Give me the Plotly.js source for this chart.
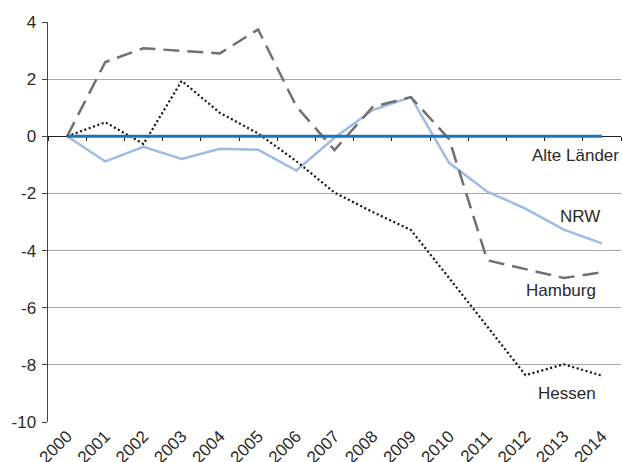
<!DOCTYPE html>
<html>
<head>
<meta charset="utf-8">
<script src="https://cdn.plot.ly/plotly-3.0.1.min.js"></script>
<style>html,body{margin:0;padding:0;background:#fff}#chart{width:622px;height:462px}</style>
</head>
<body>
<div id="chart"></div>
<script>
const years = [2000,2001,2002,2003,2004,2005,2006,2007,2008,2009,2010,2011,2012,2013,2014];
const alteLaender = [0,0,0,0,0,0,0,0,0,0,0,0,0,0,0];
const nrw = [0,-0.88,-0.37,-0.79,-0.44,-0.47,-1.2,-0.05,0.92,1.37,-0.93,-1.94,-2.53,-3.27,-3.75];
const hamburg = [0,2.6,3.08,2.99,2.9,3.74,1.05,-0.48,1.03,1.37,-0.1,-4.34,-4.65,-4.96,-4.76];
const hessen = [0,0.49,-0.27,1.94,0.82,0.1,-0.87,-1.97,-2.65,-3.28,-4.96,-6.67,-8.36,-7.98,-8.38];
const yTicks = [4,2,0,-2,-4,-6,-8,-10];
const seriesLabels = ["Alte Länder","NRW","Hamburg","Hessen"];

const boundaries = years.map(y => y - 0.5).concat([years[years.length-1] + 0.5]);
const xr = [years[0] - 0.5, years[years.length-1] + 0.5];
const font = {family: "Liberation Sans, Arial, Helvetica, sans-serif", size: 17, color: "#2a2a2a"};

const traces = [
  {x: years, y: nrw, mode: "lines", line: {color: "#9dbbe6", width: 2.5}, xaxis: "x", yaxis: "y"},
  {x: years, y: hamburg, mode: "lines", line: {color: "#707070", width: 2.5, dash: "16px,8px"}, xaxis: "x", yaxis: "y"},
  {x: years, y: hessen, mode: "lines", line: {color: "#111111", width: 2.2, dash: "2px,2.6px"}, xaxis: "x", yaxis: "y"},
  {x: years, y: alteLaender, mode: "lines", line: {color: "#1a75bc", width: 3}, xaxis: "x2", yaxis: "y"}
];

const layout = {
  width: 622, height: 462,
  margin: {l: 48, r: 1, t: 22, b: 40, pad: 0},
  paper_bgcolor: "#fff", plot_bgcolor: "#fff",
  showlegend: false,
  font: font,
  xaxis: {
    range: xr, tickmode: "array", tickvals: years, ticktext: years.map(String),
    tickangle: -45, ticks: "", showgrid: false, zeroline: false, showline: false,
    tickfont: font
  },
  xaxis2: {
    overlaying: "x", anchor: "free", position: 10/14, side: "bottom", layer: "below traces",
    range: xr, tickmode: "array", tickvals: boundaries, showticklabels: false,
    ticks: "outside", ticklen: 4, tickcolor: "#222", tickwidth: 1,
    showline: true, linecolor: "#222", linewidth: 1, showgrid: false, zeroline: false
  },
  yaxis: {
    range: [-10, 4], tickmode: "array", tickvals: yTicks, ticktext: yTicks.map(String),
    showgrid: true, gridcolor: "#a8a8a8", gridwidth: 1, zeroline: false,
    showline: true, linecolor: "#444", linewidth: 1.5, ticks: "outside", ticklen: 5, tickcolor: "#444",
    ticklabelstandoff: 2, tickfont: font
  },
  annotations: [
    {text: seriesLabels[0], xref: "paper", x: 1, xanchor: "right", yref: "y", y: -0.68, showarrow: false, font: font},
    {text: seriesLabels[1], xref: "x", x: 2014, xanchor: "right", yref: "y", y: -2.82, showarrow: false, font: font},
    {text: seriesLabels[2], xref: "x", x: 2013.9, xanchor: "right", yref: "y", y: -5.39, showarrow: false, font: font},
    {text: seriesLabels[3], xref: "x", x: 2013.9, xanchor: "right", yref: "y", y: -9.0, showarrow: false, font: font}
  ]
};

Plotly.newPlot("chart", traces, layout, {displayModeBar: false, staticPlot: true});
</script>
</body>
</html>
